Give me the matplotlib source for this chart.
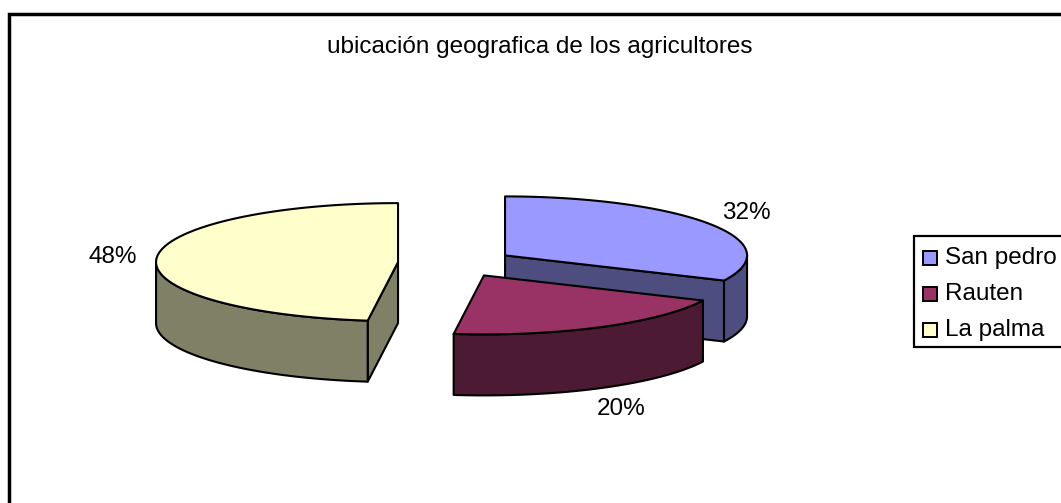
import numpy as np
import matplotlib
matplotlib.use("Agg")
import matplotlib.pyplot as plt
from matplotlib.patches import Polygon, Rectangle

titulo = "ubicación geografica de los agricultores"
categorias = ["San pedro", "Rauten", "La palma"]
porcentajes = [32, 20, 48]
col_top = ["#9999FF", "#993366", "#FFFFCC"]
col_side = ["#4D4D80", "#4D1A33", "#808066"]

plt.rcParams['font.family'] = ['Liberation Sans', 'DejaVu Sans']
fs = 17.5

W, H = 1061, 503
fig = plt.figure(figsize=(W / 100, H / 100), dpi=100)
ax = fig.add_axes([0, 0, 1, 1])
ax.set_xlim(0, W)
ax.set_ylim(H, 0)
ax.axis('off')

# pie geometry (pixels)
ox, oy = 456, 263
a, b = 242, 59
depth = 61
explode = 0.24


def pt(cx, cy, th, dz=0):
    # th in degrees, clockwise from 12 o'clock
    r = np.radians(th)
    return cx + a * np.sin(r), cy - b * np.cos(r) + dz


def arc(cx, cy, t1, t2, dz=0, n=120):
    th = np.linspace(t1, t2, n)
    r = np.radians(th)
    return np.column_stack([cx + a * np.sin(r), cy - b * np.cos(r) + dz])


fr = np.array(porcentajes) / sum(porcentajes)
ends = np.cumsum(fr) * 360
starts = ends - fr * 360
order = [0, 2, 1]

for i in order:
    t1, t2 = starts[i], ends[i]
    mid = np.radians((t1 + t2) / 2)
    cx = ox + explode * a * np.sin(mid)
    cy = oy - explode * b * np.cos(mid)
    kw = dict(edgecolor='black', linewidth=1.5, joinstyle='round')
    # radial walls
    for t, sgn in [(t1, -1), (t2, 1)]:
        if sgn * np.sin(np.radians(t)) > 1e-6:
            p = pt(cx, cy, t)
            ax.add_patch(Polygon([(cx, cy), p, (p[0], p[1] + depth), (cx, cy + depth)],
                                 facecolor=col_side[i], **kw))
    # outer wall on the front half
    lo, hi = max(t1, 90), min(t2, 270)
    if hi > lo:
        top = arc(cx, cy, lo, hi)
        bot = arc(cx, cy, lo, hi, depth)[::-1]
        ax.add_patch(Polygon(np.vstack([top, bot]), facecolor=col_side[i], **kw))
    # top face
    face = np.vstack([[cx, cy], arc(cx, cy, t1, t2)])
    ax.add_patch(Polygon(face, facecolor=col_top[i], **kw))
    # label
    lx = cx + 1.18 * a * np.sin(mid)
    ly = cy - 1.35 * b * np.cos(mid)
    if np.cos(mid) < -0.5:
        ly += depth + 3
    ax.text(lx, ly, f"{porcentajes[i]}%", fontsize=fs, ha='center', va='center')

ax.text(540, 47, titulo, fontsize=fs, ha='center', va='center')

# outer frame
ax.plot([9, 9, W + 5], [H + 5, 14, 14], color='black', lw=2.5, solid_joinstyle='miter')

# legend
ax.add_patch(Rectangle((914, 236), 200, 111, facecolor='white', edgecolor='black', lw=1.6))
for k, nombre in enumerate(categorias):
    y = 258 + k * 36
    ax.add_patch(Rectangle((923, y - 7), 14, 14, facecolor=col_top[k], edgecolor='black', lw=1.4))
    ax.text(945, y, nombre, fontsize=fs, ha='left', va='center')

fig.savefig("out.png", dpi=100)
